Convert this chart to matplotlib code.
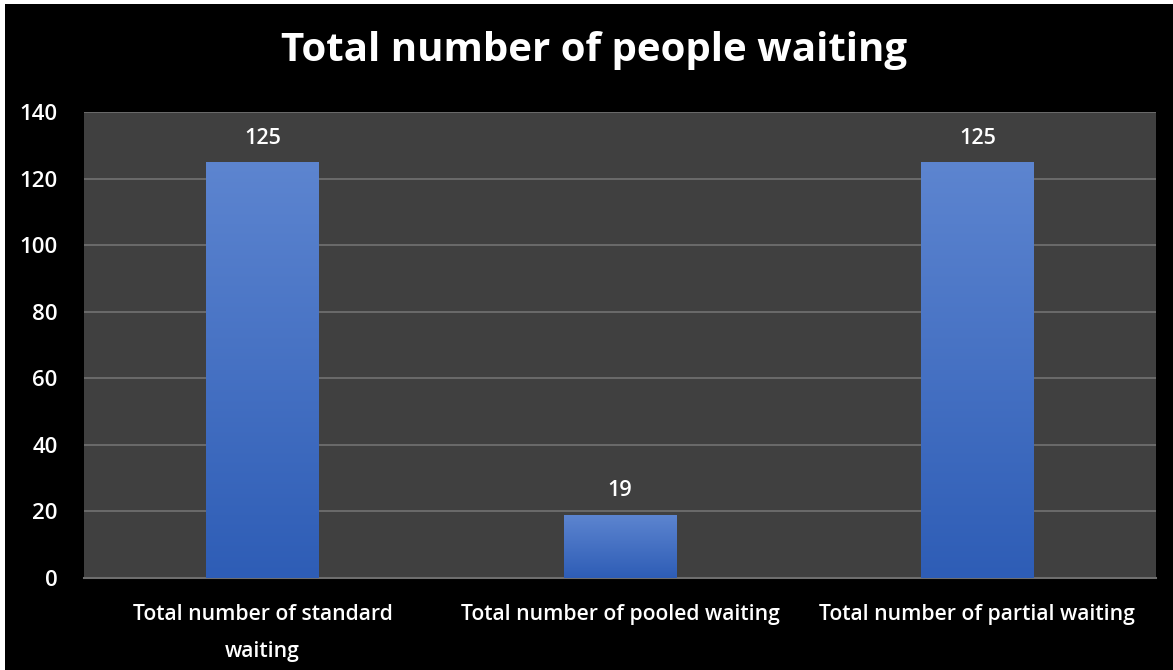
import numpy as np
import matplotlib
matplotlib.use("Agg")
import matplotlib.pyplot as plt
from matplotlib.colors import LinearSegmentedColormap
from matplotlib.patches import Rectangle

categories = ["Total number of standard\nwaiting",
              "Total number of pooled waiting",
              "Total number of partial waiting"]
values = [125, 19, 125]
y_ticks = [0, 20, 40, 60, 80, 100, 120, 140]
title = "Total number of people waiting"

plt.rcParams["font.family"] = ["Open Sans", "DejaVu Sans"]

W, H = 1173, 670
fig = plt.figure(figsize=(W / 100, H / 100), dpi=100, facecolor="white")

# black chart frame, with a thin white margin on the left and top
fig.patches.append(Rectangle((5 / W, 0), 1 - 5 / W, 1 - 4 / H,
                             transform=fig.transFigure, facecolor="black",
                             edgecolor="none", zorder=-10))

ax = fig.add_axes([84 / W, (H - 578) / H, (1156 - 84) / W, (578 - 112) / H])
ax.set_facecolor("#404040")

x = np.arange(len(categories))
bar_w = 0.315
bars = ax.bar(x, values, width=bar_w, color="none", edgecolor="none", zorder=3)

# vertical blue gradient inside each bar
cmap = LinearSegmentedColormap.from_list("blue_grad", ["#2E5DB6", "#5D85D0"])
grad = np.linspace(0, 1, 256).reshape(-1, 1)
for b in bars:
    x0, y0 = b.get_x(), b.get_y()
    im = ax.imshow(grad, cmap=cmap, origin="lower", aspect="auto",
                   extent=[x0, x0 + b.get_width(), y0, y0 + b.get_height()],
                   zorder=3)
    im.set_clip_path(b)
    ax.text(x0 + b.get_width() / 2, b.get_height() + 4.0, f"{b.get_height():g}",
            ha="center", va="bottom", color="white", fontsize=15.5,
            fontweight="semibold")

ax.set_xlim(-0.5, len(categories) - 0.5)
ax.set_ylim(0, 140)
ax.set_yticks(y_ticks)
ax.set_yticklabels([str(t) for t in y_ticks], color="white", fontsize=16,
                   fontweight="semibold")
ax.set_xticks(x)
ax.set_xticklabels(categories, color="white", fontsize=15.2, linespacing=2.0,
                   fontweight="semibold")
ax.tick_params(axis="both", length=0)
ax.tick_params(axis="y", pad=19)
ax.tick_params(axis="x", pad=19)

ax.grid(axis="y", color="#6E6E6E", linewidth=1.3, zorder=1)
ax.set_axisbelow(True)
for s in ["left", "right", "top"]:
    ax.spines[s].set_visible(False)
ax.spines["bottom"].set_color("#6E6E6E")
ax.spines["bottom"].set_linewidth(1.5)

fig.text(594 / W, 1 - 50 / H, title, ha="center", va="center",
         color="white", fontsize=29, fontweight="bold")

fig.savefig("out.png", dpi=100, facecolor=fig.get_facecolor())
